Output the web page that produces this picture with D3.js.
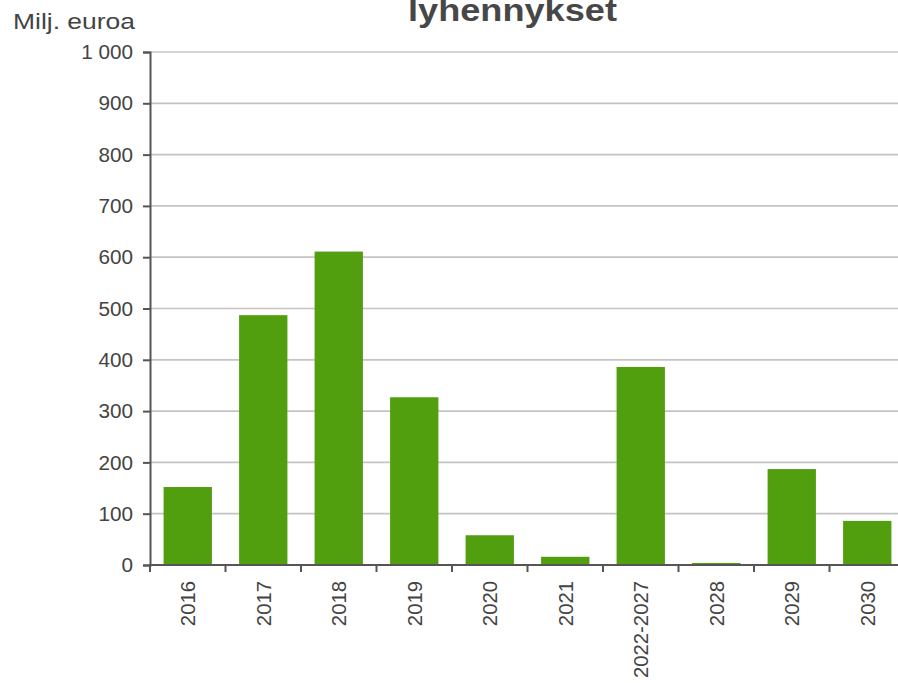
<!DOCTYPE html>
<html><head><meta charset="utf-8">
<script src="https://cdn.jsdelivr.net/npm/d3@7"></script>
<style>
html,body{margin:0;padding:0;background:#fff;}
svg{display:block;font-family:"Liberation Sans",Arial,sans-serif;}
</style></head>
<body>
<svg id="chart" width="898" height="683"></svg>
<script>
const categories = ["2016","2017","2018","2019","2020","2021","2022-2027","2028","2029","2030"];
const values = [152, 487, 611, 327, 58, 16, 386, 4, 187, 86];
const yTicks = [0,100,200,300,400,500,600,700,800,900,1000];
const titleText = "lyhennykset";
const yLabel = "Milj. euroa";

(function(){
const svg = d3.select("#chart");
const pLeft = 150, pRight = 905, pTop = 52, pBottom = 565;
const textColor = "#444";

const x = d3.scaleBand().domain(categories).range([pLeft, pRight]).paddingInner(0.36).paddingOuter(0.18);
const y = d3.scaleLinear().domain([0, 1000]).range([pBottom, pTop]);
const fmt = v => d3.format(",")(v).replace(/,/g, " ");

// gridlines
svg.append("g").selectAll("line").data(yTicks.filter(d => d > 0)).join("line")
  .attr("x1", pLeft).attr("x2", 898)
  .attr("y1", d => y(d)).attr("y2", d => y(d))
  .attr("stroke", "#c4c4c4").attr("stroke-width", 1.7);

// bars
svg.append("g").selectAll("rect").data(categories).join("rect")
  .attr("x", d => x(d)).attr("width", x.bandwidth())
  .attr("y", (d, i) => y(values[i])).attr("height", (d, i) => y(0) - y(values[i]))
  .attr("fill", "#519e0e");

// y axis
const yAxis = svg.append("g").attr("transform", `translate(${pLeft},0)`)
  .call(d3.axisLeft(y).tickValues(yTicks).tickFormat(fmt).tickSizeOuter(0).tickSize(7).tickPadding(10));
yAxis.select(".domain").attr("stroke", "#555").attr("stroke-width", 2);
yAxis.selectAll(".tick line").attr("stroke", "#555").attr("stroke-width", 2);
yAxis.selectAll(".tick text").attr("font-size", 20.7).attr("fill", textColor)
  .attr("font-family", "Liberation Sans, Arial, sans-serif");

// x axis (ticks at band boundaries)
const xAxisG = svg.append("g");
xAxisG.append("line").attr("x1", pLeft - 1).attr("x2", 898).attr("y1", pBottom).attr("y2", pBottom)
  .attr("stroke", "#555").attr("stroke-width", 2);
const step = x.step();
const boundaries = categories.map(d => x(d) - (step - x.bandwidth()) / 2);
xAxisG.selectAll("line.tk").data(boundaries).join("line").attr("class", "tk")
  .attr("x1", d => d).attr("x2", d => d).attr("y1", pBottom).attr("y2", pBottom + 7)
  .attr("stroke", "#555").attr("stroke-width", 2);
xAxisG.selectAll("text").data(categories).join("text")
  .attr("transform", d => `translate(${x(d) + x.bandwidth() / 2 + 7.5},${pBottom + 16}) rotate(-90)`)
  .attr("text-anchor", "end").attr("font-size", 20.3).attr("fill", textColor)
  .text(d => d);

// y label
svg.append("text").attr("x", 13).attr("y", 29).attr("font-size", 22).attr("fill", textColor)
  .attr("textLength", 122).attr("lengthAdjust", "spacingAndGlyphs").text(yLabel);

// title
svg.append("text").attr("x", 408).attr("y", 21).attr("font-size", 31).attr("font-weight", "bold")
  .attr("fill", "#474747").attr("textLength", 209).attr("lengthAdjust", "spacingAndGlyphs").text(titleText);
})();
</script>
</body></html>
